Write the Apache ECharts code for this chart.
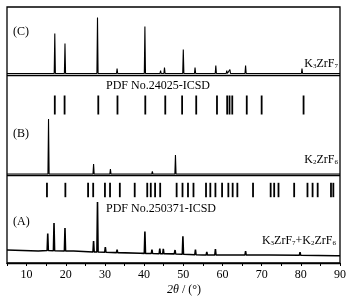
<!DOCTYPE html>
<html>
<head>
<meta charset="utf-8">
<script src="https://cdn.jsdelivr.net/npm/echarts@6/dist/echarts.min.js"></script>
<style>html,body{margin:0;padding:0;background:#fff;overflow:hidden}#c{width:356px;height:307px;}</style>
</head>
<body>
<div id="c"></div>
<script>
// ---------- DATA ----------
// 2theta tick labels
const xTicks = [10, 20, 30, 40, 50, 60, 70, 80, 90];
// (C) K3ZrF7 : [2theta, intensity above baseline]
const peaksC = [[17.2,40],[19.8,30],[28.1,56],[33.1,5],[36.5,2],[40.2,47],[44.2,3],[45.2,6],[50.0,24],[53.0,6],[58.3,8],[61.1,3],[61.9,4],[65.9,8],[73.0,2],[80.3,5]];
// (B) K2ZrF6
const peaksB = [[15.6,55],[20.2,1],[27.1,10],[31.4,5],[42.1,2.5],[44.0,1.5],[48.0,19],[56.0,1.5],[63.5,1]];
// (A) K3ZrF7+K2ZrF6 : background points [2theta, intensity]
const backgroundA = [[5,13],[13,12],[22,12],[30.5,10.7],[39,9.7],[47.7,9.1],[55,8],[72,8],[89,7.3],[90,7.3]];
// (A) peaks : [2theta, background at foot, peak top]
const peaksA = [[15.4,12.5,29.5],[17.0,12.3,40.0],[19.8,12,35],[27.1,11,22],[28.1,11,61],[30.1,10.8,15.8],[33.1,10.4,13.4],[40.2,9.6,31.6],[42.0,9.5,13.5],[44.0,9.3,14.3],[44.9,9.2,14.2],[47.9,9,13],[49.9,8.8,26.8],[53.1,8.3,13.3],[56.0,8,11],[58.2,8,14],[61.0,8,10],[65.9,8,12],[79.8,7.8,10.8]];
// reference stick patterns (2theta)
const pdf24025 = [17.2,19.7,28.3,33.2,40.3,45.4,49.7,53.3,58.6,61.2,61.8,62.5,66.2,70.0,80.7];
const pdf250371 = [15.2,19.9,25.7,27.0,30.0,31.3,33.8,37.6,40.8,41.7,42.8,44.1,48.3,49.8,51.2,52.6,55.8,56.9,58.2,59.9,61.5,62.6,63.8,67.8,72.3,73.2,74.3,78.3,81.7,83.0,84.3,87.7,88.3];

// ---------- LAYOUT ----------
const OFF_C = 189.5, OFF_B = 89, OFF_A = 0;
const SEP = [187.5, 87.5];
const STICK1 = [148.5, 167.5], STICK2 = [65.8, 80.2];
const HW = 0.15; // half width of a drawn peak
const FONT = 'Liberation Serif, Times New Roman, serif';

function traceFromPeaks(peaks, off) {
  const pts = [[5, off]];
  peaks.forEach(p => { pts.push([p[0] - HW, off], [p[0], off + p[1]], [p[0] + HW, off]); });
  pts.push([90, off]);
  return pts;
}
function traceA() {
  const pts = backgroundA.map(p => [p[0], p[1] + OFF_A]);
  peaksA.forEach(p => { pts.push([p[0] - HW, p[1] + OFF_A], [p[0], p[2] + OFF_A], [p[0] + HW, p[1] + OFF_A]); });
  pts.sort((a, b) => a[0] - b[0]);
  return pts;
}
function stickSeries(vals, range) {
  return { type: 'custom', data: vals.map(v => [v]), encode: { x: 0 }, silent: true,
    renderItem: function (params, api) {
      const x = api.value(0);
      const p0 = api.coord([x, range[0]]);
      const p1 = api.coord([x, range[1]]);
      return { type: 'line', shape: { x1: p0[0], y1: p0[1], x2: p1[0], y2: p1[1] }, style: { stroke: '#000', lineWidth: 1.8 } };
    } };
}
const lineBase = { type: 'line', showSymbol: false, symbol: 'none', silent: true, animation: false };
const chart = echarts.init(document.getElementById('c'), null, { renderer: 'canvas' });
const mainR = { fontFamily: FONT, fontSize: 12, lineHeight: 12, verticalAlign: 'middle', color: '#000' };
const subR = { fontFamily: FONT, fontSize: 7, lineHeight: 1, verticalAlign: 'bottom', color: '#000' };
function txt(text, x, y, align, rich) {
  return { type: 'text', x: x, y: y, silent: true, style: { text: text, fill: '#000', font: '12px ' + FONT, align: align || 'left', verticalAlign: 'middle', rich: rich } };
}
chart.setOption({
  animation: false,
  grid: { left: 7, top: 7, width: 333, height: 256, show: true, borderColor: '#000', borderWidth: 1.3 },
  xAxis: { type: 'value', min: 5, max: 90, interval: 5,
    axisLine: { show: true, lineStyle: { color: '#000', width: 1.3 } },
    axisTick: { show: true, inside: false, length: 3, lineStyle: { color: '#000' } },
    axisLabel: { color: '#000', fontFamily: FONT, fontSize: 12, margin: 6, formatter: v => (xTicks.indexOf(v) >= 0 ? String(v) : '') },
    splitLine: { show: false } },
  yAxis: { type: 'value', min: 0, max: 256, show: false, splitLine: { show: false } },
  series: [
    Object.assign({}, lineBase, { data: traceFromPeaks(peaksC, OFF_C), lineStyle: { color: '#000', width: 1.1 },
      markLine: { silent: true, symbol: 'none', label: { show: false }, lineStyle: { color: '#000', type: 'solid', width: 1.3 }, data: SEP.map(v => ({ yAxis: v })) } }),
    Object.assign({}, lineBase, { data: traceFromPeaks(peaksB, OFF_B), lineStyle: { color: '#000', width: 1.1 } }),
    Object.assign({}, lineBase, { data: traceA(), lineStyle: { color: '#000', width: 1.6 } }),
    stickSeries(pdf24025, STICK1),
    stickSeries(pdf250371, STICK2)
  ],
  graphic: [
    txt('(C)', 13, 32), txt('(B)', 13, 134), txt('(A)', 13, 222),
    txt('PDF No.24025-ICSD', 106, 86), txt('PDF No.250371-ICSD', 106, 209),
    txt('{m|K}{s|3}{m|ZrF}{s|7}', 338, 64, 'right', { m: mainR, s: subR }),
    txt('{m|K}{s|2}{m|ZrF}{s|6}', 338, 160, 'right', { m: mainR, s: subR }),
    txt('{m|K}{s|3}{m|ZrF}{s|7}{m|+K}{s|2}{m|ZrF}{s|6}', 336, 241, 'right', { m: mainR, s: subR }),
    txt('{i|2θ}{m| / (°)}', 184, 290, 'center', { m: mainR, i: Object.assign({}, mainR, { fontStyle: 'italic' }) })
  ]
});
</script>
</body>
</html>
